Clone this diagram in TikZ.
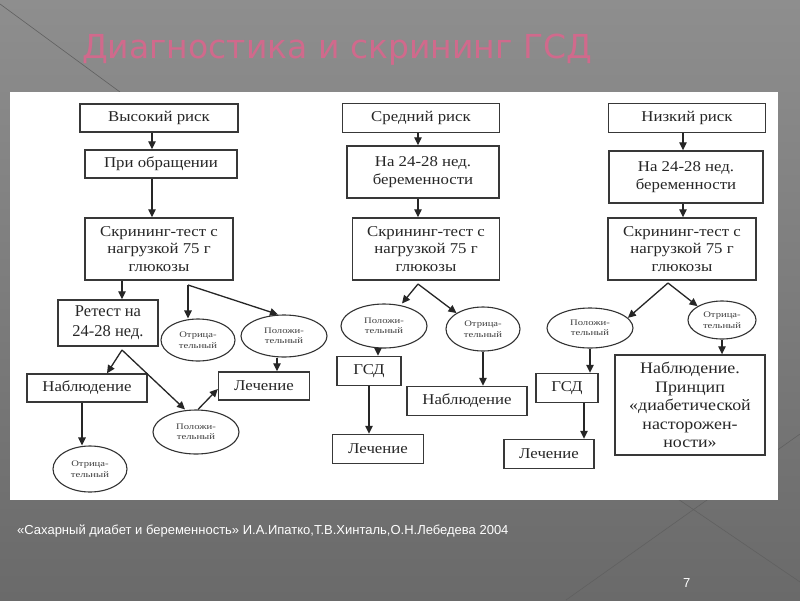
\documentclass[tikz,border=0pt]{standalone}
\usepackage{fontspec}
\setmainfont{Liberation Serif}
\newfontfamily\wideserif[FakeStretch=1.12]{Liberation Serif}
\newfontfamily\ovalserif[FakeStretch=1.25]{Liberation Serif}
\newfontfamily\ttlfont{DejaVu Sans}
\newfontfamily\footfont{Liberation Sans}
\usetikzlibrary{positioning,arrows.meta,shapes.geometric}
\definecolor{bgtop}{RGB}{142,142,142}
\definecolor{bgbot}{RGB}{106,106,106}
\definecolor{ttlpink}{RGB}{208,106,140}
\definecolor{decoln}{RGB}{96,96,96}
\tikzset{
  box/.style={rectangle, draw=black!78, line width=1.4pt, fill=white, inner sep=1pt,
    align=center, text=black!85, font=\wideserif\fontsize{15}{17.5}\selectfont},
  bigbox/.style={box, font=\rmfamily\fontsize{16.5}{20}\selectfont},
  notebox/.style={box, font=\wideserif\fontsize{16}{18.5}\selectfont},
  oval/.style={ellipse, draw=black!80, line width=1.1pt, fill=white, inner sep=0pt,
    align=center, text=black!75, font=\ovalserif\fontsize{8.5}{10.5}\selectfont},
  arr/.style={draw=black!85, line width=1.3pt, -{Triangle[length=8pt,width=7.5pt]}},
  deco/.style={draw=decoln, line width=0.6pt},
  ttl/.style={anchor=west, text=ttlpink, inner sep=0pt, font=\ttlfont\fontsize{33}{36}\selectfont},
  foot/.style={anchor=west, text=white, inner sep=0pt, font=\footfont\fontsize{13}{15}\selectfont}
}
\begin{document}
\begin{tikzpicture}[x=1pt, y=-1pt]
  % slide background
  \shade[top color=bgtop, bottom color=bgbot] (0,0) rectangle (800,600);
  \useasboundingbox (0,0) rectangle (800,600);
  \draw[deco] (0,4) -- (120,92);
  \draw[deco] (566,600) -- (800,434);
  \draw[deco] (675,497) -- (800,582);
  \fill[white] (10,92) rectangle (778,500);
  \node[ttl] (title) at (82,50) {Диагностика и скрининг ГСД};
  \node[foot] (src) at (17,531) {«Сахарный диабет и беременность» И.А.Ипатко,Т.В.Хинталь,О.Н.Лебедева 2004};
  \node[foot] (pg) at (683,583) {7};

  % high risk
  \node[box, minimum width=158pt, minimum height=28pt] (vr) at (159,118) {Высокий риск};
  \node[box, minimum width=152pt, minimum height=28pt] (po) at (161,164) {При обращении};
  \node[box, minimum width=148pt, minimum height=62pt] (s1) at (159,249) {Скрининг-тест с\\нагрузкой 75 г\\глюкозы};
  \node[bigbox, minimum width=100pt, minimum height=46pt] (rt) at (108,323) {Ретест на\\24-28 нед.};
  \node[oval, minimum width=74pt, minimum height=42pt] (o1) at (198,340) {Отрица-\\тельный};
  \node[oval, minimum width=86pt, minimum height=42pt] (p1) at (284,336) {Положи-\\тельный};
  \node[box, minimum width=91pt, minimum height=28pt] (l1) at (264,386) {Лечение};
  \node[box, minimum width=120pt, minimum height=28pt] (n1) at (87,388) {Наблюдение};
  \node[oval, minimum width=86pt, minimum height=44pt] (p2) at (196,432) {Положи-\\тельный};
  \node[oval, minimum width=74pt, minimum height=46pt] (o2) at (90,469) {Отрица-\\тельный};
  \coordinate (c1) at (188,285);
  \coordinate (c2) at (122,350);
  \draw[arr] ([xshift=-7pt]vr.south) -- ([xshift=-7pt]vr.south |- po.north);
  \draw[arr] ([xshift=-9pt]po.south) -- ([xshift=-9pt]po.south |- s1.north);
  \draw[arr] ([xshift=14pt]rt.north |- s1.south) -- ([xshift=14pt]rt.north);
  \draw[arr] (c1) -- (c1 |- o1.north);
  \draw[arr] (c1) -- ([xshift=-6pt]p1.north);
  \draw[arr] ([xshift=-7pt]p1.south) -- ([xshift=-7pt]p1.south |- l1.north);
  \draw[arr] (c2) -- ([xshift=20pt]n1.north);
  \draw[arr] (c2) -- ([xshift=-11pt]p2.north);
  \draw[arr] ([xshift=2pt]p2.north) -- ([yshift=-3pt]l1.west);
  \draw[arr] ([xshift=-8pt]o2.north |- n1.south) -- ([xshift=-8pt]o2.north);

  % medium risk
  \node[box, minimum width=157pt, minimum height=29pt] (sr) at (421,118) {Средний риск};
  \node[box, minimum width=152pt, minimum height=52pt] (b2) at (423,172) {На 24-28 нед.\\беременности};
  \node[box, minimum width=147pt, minimum height=62pt] (s2) at (426,249) {Скрининг-тест с\\нагрузкой 75 г\\глюкозы};
  \node[oval, minimum width=86pt, minimum height=44pt] (p3) at (384,326) {Положи-\\тельный};
  \node[oval, minimum width=74pt, minimum height=44pt] (o3) at (483,329) {Отрица-\\тельный};
  \node[box, minimum width=64pt, minimum height=29pt] (g1) at (369,371) {ГСД};
  \node[box, minimum width=91pt, minimum height=29pt] (l2) at (378,449) {Лечение};
  \node[box, minimum width=120pt, minimum height=29pt] (n2) at (467,401) {Наблюдение};
  \coordinate (c3) at (418,284);
  \draw[arr] ([xshift=-3pt]sr.south) -- ([xshift=-3pt]sr.south |- b2.north);
  \draw[arr] ([xshift=-5pt]b2.south) -- ([xshift=-5pt]b2.south |- s2.north);
  \draw[arr] (c3) -- ([xshift=18pt]p3.north);
  \draw[arr] (c3) -- (o3.north west);
  \draw[arr] ([xshift=-6pt]p3.south) -- ([xshift=-6pt]p3.south |- g1.north);
  \draw[arr] (g1.south) -- (g1.south |- l2.north);
  \draw[arr] (o3.south) -- (o3.south |- n2.north);

  % low risk
  \node[box, minimum width=157pt, minimum height=29pt] (nr) at (687,118) {Низкий риск};
  \node[box, minimum width=154pt, minimum height=52pt] (b3) at (686,177) {На 24-28 нед.\\беременности};
  \node[box, minimum width=148pt, minimum height=62pt] (s3) at (682,249) {Скрининг-тест с\\нагрузкой 75 г\\глюкозы};
  \node[oval, minimum width=86pt, minimum height=40pt] (p4) at (590,328) {Положи-\\тельный};
  \node[oval, minimum width=68pt, minimum height=38pt] (o4) at (722,320) {Отрица-\\тельный};
  \node[box, minimum width=62pt, minimum height=29pt] (g2) at (567,388) {ГСД};
  \node[box, minimum width=90pt, minimum height=29pt] (l3) at (549,454) {Лечение};
  \node[notebox, minimum width=150pt, minimum height=100pt] (nb) at (690,405) {Наблюдение.\\Принцип\\«диабетической\\насторожен-\\ности»};
  \coordinate (c4) at (668,283);
  \draw[arr] ([xshift=-4pt]nr.south) -- ([xshift=-4pt]nr.south |- b3.north);
  \draw[arr] ([xshift=-3pt]b3.south) -- ([xshift=-3pt]b3.south |- s3.north);
  \draw[arr] (c4) -- (p4.15);
  \draw[arr] (c4) -- (o4.north west);
  \draw[arr] (p4.south) -- (p4.south |- g2.north);
  \draw[arr] ([xshift=17pt]g2.south) -- ([xshift=17pt]g2.south |- l3.north);
  \draw[arr] (o4.south) -- (o4.south |- nb.north);
\end{tikzpicture}
\end{document}
